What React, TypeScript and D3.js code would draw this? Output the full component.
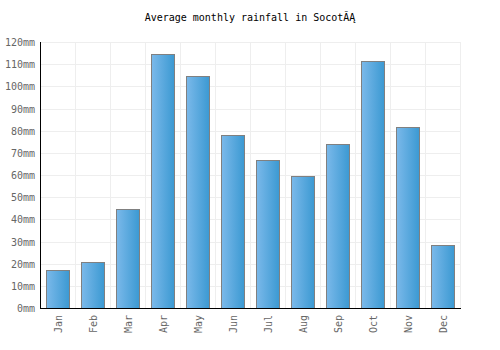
import { useEffect, useRef } from 'react'
import * as d3 from 'd3'

const MONTHS = ['Jan', 'Feb', 'Mar', 'Apr', 'May', 'Jun', 'Jul', 'Aug', 'Sep', 'Oct', 'Nov', 'Dec']
const RAINFALL = [17.1, 20.6, 44.5, 114.4, 104.7, 78, 66.6, 59.4, 73.8, 111.3, 81.5, 28.4]
const Y_TICKS = [0, 10, 20, 30, 40, 50, 60, 70, 80, 90, 100, 110, 120]
const TITLE = 'Average monthly rainfall in SocotĂĄ'

const FONT = '"DejaVu Sans Mono", monospace'

export default function App() {
  const svgRef = useRef<SVGSVGElement>(null)

  useEffect(() => {
    if (!svgRef.current) return
    const W = 500
    const H = 350
    const margin = { top: 42, right: 40, bottom: 42, left: 40 }
    const w = W - margin.left - margin.right
    const h = H - margin.top - margin.bottom

    const svg = d3.select(svgRef.current)
    svg.selectAll('*').remove()

    const defs = svg.append('defs')
    const grad = defs.append('linearGradient')
      .attr('id', 'barGrad')
      .attr('x1', '0%').attr('x2', '100%').attr('y1', '0%').attr('y2', '0%')
    grad.append('stop').attr('offset', '0%').attr('stop-color', '#7bb9ea')
    grad.append('stop').attr('offset', '100%').attr('stop-color', '#3b99d2')

    svg.append('text')
      .attr('x', W / 2).attr('y', 21)
      .attr('text-anchor', 'middle')
      .attr('font-family', FONT).attr('font-size', '10px')
      .attr('fill', '#000')
      .text(TITLE)

    const g = svg.append('g').attr('transform', `translate(${margin.left},${margin.top})`)

    const x = d3.scaleBand().domain(MONTHS).range([0, w]).paddingInner(0.33).paddingOuter(0.165)
    const y = d3.scaleLinear().domain([0, 120]).range([h, 0])

    // Grid
    g.append('g')
      .selectAll('line')
      .data(Y_TICKS)
      .enter().append('line')
      .attr('x1', 0).attr('x2', w)
      .attr('y1', d => Math.round(y(d)) + 0.5).attr('y2', d => Math.round(y(d)) + 0.5)
      .attr('stroke', '#eeeeee').attr('stroke-width', 1)

    const step = x.step()
    g.append('g')
      .selectAll('line')
      .data(d3.range(MONTHS.length + 1))
      .enter().append('line')
      .attr('x1', i => Math.round(i * step) + 0.5).attr('x2', i => Math.round(i * step) + 0.5)
      .attr('y1', 0).attr('y2', h)
      .attr('stroke', '#eeeeee').attr('stroke-width', 1)

    // Bars
    g.selectAll('.bar')
      .data(RAINFALL)
      .enter().append('rect')
      .attr('x', (_, i) => Math.round(x(MONTHS[i])!) + 0.5)
      .attr('y', d => Math.round(y(d)) + 0.5)
      .attr('width', Math.round(x.bandwidth()))
      .attr('height', d => h - Math.round(y(d)))
      .attr('fill', 'url(#barGrad)')
      .attr('stroke', '#808080')
      .attr('stroke-width', 1)

    // Axes lines
    g.append('line')
      .attr('x1', 0.5).attr('x2', 0.5).attr('y1', 0).attr('y2', h + 0.5)
      .attr('stroke', '#000').attr('stroke-width', 1)
    g.append('line')
      .attr('x1', 0).attr('x2', w + 1).attr('y1', h + 0.5).attr('y2', h + 0.5)
      .attr('stroke', '#000').attr('stroke-width', 1)

    // Y labels
    g.append('g')
      .selectAll('text')
      .data(Y_TICKS)
      .enter().append('text')
      .attr('x', -5).attr('y', d => y(d) + 4)
      .attr('text-anchor', 'end')
      .attr('font-family', FONT).attr('font-size', '10px')
      .attr('fill', '#666')
      .text(d => `${d}mm`)

    // X labels
    g.append('g')
      .selectAll('text')
      .data(MONTHS)
      .enter().append('text')
      .attr('transform', d => `translate(${x(d)! + x.bandwidth() / 2 + 4},${h + 7}) rotate(-90)`)
      .attr('text-anchor', 'end')
      .attr('font-family', FONT).attr('font-size', '10px')
      .attr('fill', '#666')
      .text(d => d)
  }, [])

  return (
    <svg ref={svgRef} width={500} height={350}
      style={{ display: 'block', position: 'absolute', left: 0, top: 0, background: '#fff' }} />
  )
}
